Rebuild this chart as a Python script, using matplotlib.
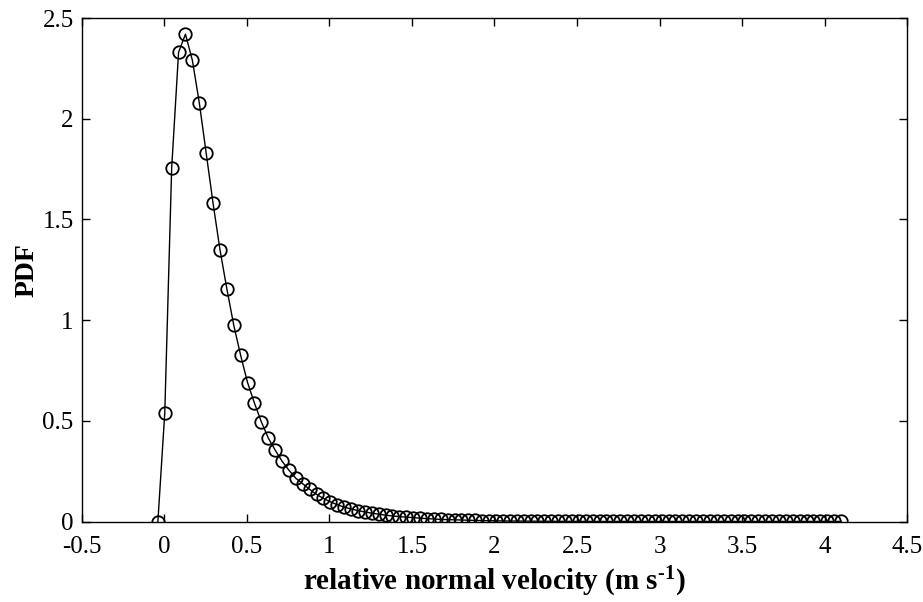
import numpy as np
import matplotlib
matplotlib.use('Agg')
import matplotlib.pyplot as plt

plt.rcParams['font.family'] = ['Liberation Serif', 'DejaVu Serif']
plt.rcParams['mathtext.fontset'] = 'custom'
plt.rcParams['mathtext.rm'] = 'Liberation Serif:bold'
plt.rcParams['mathtext.it'] = 'Liberation Serif:bold'
plt.rcParams['mathtext.bf'] = 'Liberation Serif:bold'

# bin centres of the velocity histogram (uniform grid, 100 bins)
velocity = np.linspace(-0.04, 4.1, 100)

# PDF
pdf = [0.0, 0.54, 1.755, 2.33, 2.42, 2.29, 2.08, 1.83, 1.58, 1.35,
       1.155, 0.975, 0.825, 0.69, 0.588, 0.495, 0.415, 0.355, 0.30, 0.255,
       0.215, 0.188, 0.16, 0.135, 0.115, 0.098, 0.084, 0.072, 0.063, 0.055,
       0.048, 0.042, 0.037, 0.032, 0.028, 0.025, 0.022, 0.02, 0.017, 0.015,
       0.013, 0.011, 0.01, 0.009, 0.008, 0.007, 0.006, 0.005, 0.0045, 0.004,
       0.0035, 0.003, 0.003, 0.0025, 0.0025, 0.002, 0.002, 0.0018, 0.0016, 0.0015,
       0.0014, 0.0013, 0.0012, 0.0011, 0.001, 0.001, 0.001, 0.001, 0.001, 0.001,
       0.001, 0.001, 0.001, 0.001, 0.001, 0.001, 0.001, 0.001, 0.001, 0.001,
       0.001, 0.001, 0.001, 0.001, 0.001, 0.001, 0.001, 0.001, 0.001, 0.001,
       0.001, 0.001, 0.001, 0.001, 0.001, 0.001, 0.001, 0.001, 0.001, 0.001]

xticks = [-0.5, 0, 0.5, 1, 1.5, 2, 2.5, 3, 3.5, 4, 4.5]
xtick_labels = ['-0.5', '0', '0.5', '1', '1.5', '2', '2.5', '3', '3.5', '4', '4.5']
yticks = [0, 0.5, 1, 1.5, 2, 2.5]
ytick_labels = ['0', '0.5', '1', '1.5', '2', '2.5']

fig = plt.figure(figsize=(9.23, 6.02), dpi=100)
ax = fig.add_axes([0.0888, 0.1335, 0.8939, 0.8365])

ax.plot(velocity, pdf, color='black', linewidth=1.0, marker='o', markersize=9,
        markerfacecolor='none', markeredgecolor='black', markeredgewidth=1.3)

ax.set_xlim(-0.5, 4.5)
ax.set_ylim(0, 2.5)
ax.set_xticks(xticks)
ax.set_xticklabels(xtick_labels)
ax.set_yticks(yticks)
ax.set_yticklabels(ytick_labels)
ax.tick_params(direction='in', top=True, right=True, length=6, width=1.0,
               labelsize=18)
ax.tick_params(axis='x', pad=10)
ax.tick_params(axis='y', pad=6)
for spine in ax.spines.values():
    spine.set_linewidth(1.0)

ax.set_xlabel(r'relative normal velocity (m s$^{\text{-}1}$)', fontsize=21,
              fontweight='bold', labelpad=5)
ax.set_ylabel('PDF', fontsize=20, fontweight='bold', labelpad=2)

fig.savefig('out.png', dpi=100)
plt.close(fig)
